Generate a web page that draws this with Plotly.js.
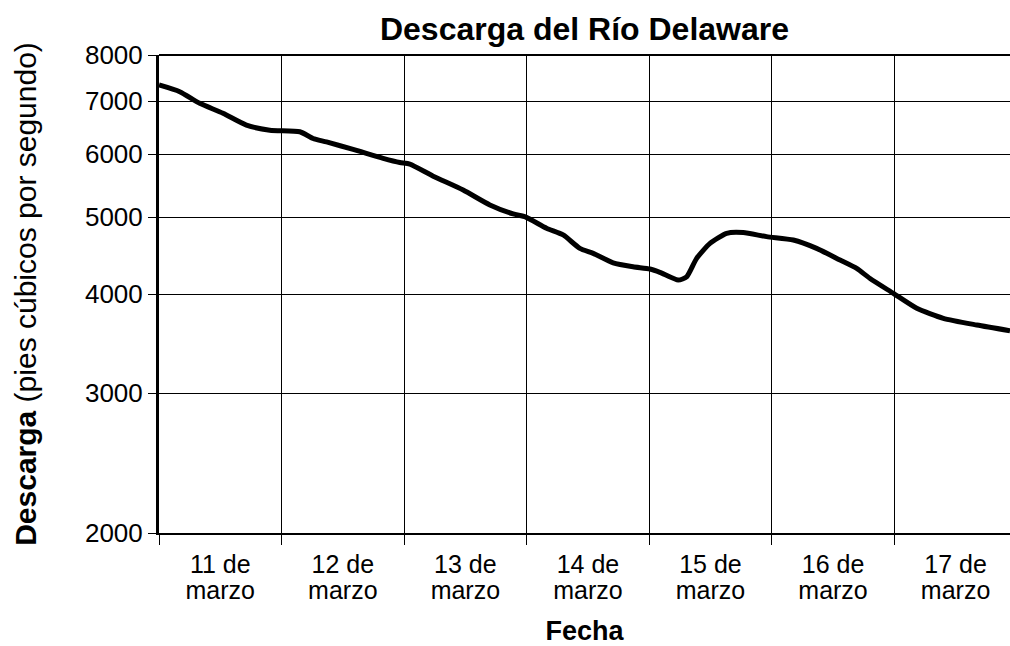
<!DOCTYPE html>
<html>
<head>
<meta charset="utf-8">
<script src="https://cdn.plot.ly/plotly-3.0.1.min.js"></script>
<style>html,body{margin:0;padding:0;background:#fff;}</style>
</head>
<body>
<div id="chart" style="width:1010px;height:646px;"></div>
<script>
// Day of March (fractional) and discharge (cubic feet per second)
const dayOfMarch = [11.000, 11.169, 11.332, 11.522, 11.713, 11.904, 12.149, 12.257, 12.367, 12.584,
  12.829, 12.965, 13.047, 13.237, 13.482, 13.700, 13.890, 13.993, 14.162, 14.298,
  14.434, 14.543, 14.706, 14.869, 15.006, 15.087, 15.237, 15.305, 15.387, 15.496,
  15.632, 15.767, 15.958, 16.176, 16.366, 16.557, 16.693, 16.802, 16.992, 17.183,
  17.400, 17.673, 17.944];
const discharge = [7334, 7193, 6954, 6756, 6528, 6433, 6404, 6280, 6217, 6084,
  5928, 5856, 5830, 5630, 5408, 5179, 5045, 5000, 4840, 4747,
  4566, 4500, 4379, 4329, 4300, 4260, 4165, 4204, 4436, 4632,
  4770, 4780, 4724, 4678, 4566, 4414, 4308, 4184, 4008, 3838,
  3728, 3656, 3596];
const dayTickVals = [11.5, 12.5, 13.5, 14.5, 15.5, 16.5, 17.5];
const dayTickTop = ['11 de', '12 de', '13 de', '14 de', '15 de', '16 de', '17 de'];
const dayTickBottom = ['marzo', 'marzo', 'marzo', 'marzo', 'marzo', 'marzo', 'marzo'];
const yTickVals = [2000, 3000, 4000, 5000, 6000, 7000, 8000];
const yTickText = ['2000', '3000', '4000', '5000', '6000', '7000', '8000'];

const FONT = 'Liberation Sans, Arial, Helvetica, sans-serif';
const xRange = [11, 17.944];

const traces = [{
  x: dayOfMarch,
  y: discharge,
  type: 'scatter',
  mode: 'lines',
  line: {color: '#000', width: 5, shape: 'spline', smoothing: 0.6},
  hoverinfo: 'x+y',
  showlegend: false
}, {
  // same series bound to the second (label-only) x axis, kept invisible
  x: dayOfMarch,
  y: discharge,
  xaxis: 'x2',
  type: 'scatter',
  mode: 'lines',
  line: {color: 'rgba(0,0,0,0)', width: 0},
  opacity: 0,
  hoverinfo: 'skip',
  showlegend: false
}];

const layout = {
  width: 1010, height: 646,
  margin: {l: 159, r: 0, t: 55, b: 113},
  paper_bgcolor: '#fff', plot_bgcolor: '#fff',
  font: {family: FONT, color: '#000'},
  showlegend: false,
  title: {
    text: '<b>Descarga del Río Delaware</b>',
    font: {family: FONT, size: 32, color: '#000'},
    x: 0.5, xref: 'paper', xanchor: 'center',
    y: 1 - 29 / 646, yref: 'container', yanchor: 'middle'
  },
  xaxis: {
    range: xRange,
    tickmode: 'array', tickvals: dayTickVals, ticktext: dayTickTop,
    ticks: '', showgrid: false, zeroline: false,
    showline: true, linecolor: '#000', linewidth: 2,
    tickfont: {family: FONT, size: 25, color: '#000'},
    ticklabelstandoff: 8,
    minor: {tick0: 11, dtick: 1, ticks: 'outside', ticklen: 10, tickwidth: 1, tickcolor: '#000',
            showgrid: true, gridcolor: '#000', gridwidth: 1},
    title: {text: '<b>Fecha</b>', font: {family: FONT, size: 27, color: '#000'}, standoff: 52}
  },
  xaxis2: {
    overlaying: 'x', anchor: 'y', side: 'bottom',
    range: xRange,
    tickmode: 'array', tickvals: dayTickVals, ticktext: dayTickBottom,
    ticks: '', showgrid: false, zeroline: false, showline: false,
    tickfont: {family: FONT, size: 25, color: '#000'},
    ticklabelstandoff: 40
  },
  yaxis: {
    type: 'log',
    range: [Math.log10(2000), Math.log10(8000)],
    tickmode: 'array', tickvals: yTickVals, ticktext: yTickText,
    ticks: 'outside', ticklen: 8, tickwidth: 1, tickcolor: '#000',
    showgrid: true, gridcolor: '#000', gridwidth: 1, zeroline: false,
    showline: true, linecolor: '#000', linewidth: 3,
    tickfont: {family: FONT, size: 26, color: '#000'},
    title: {text: '<b>Descarga</b> (pies cúbicos por segundo)', font: {family: FONT, size: 30, color: '#000'}, standoff: 40}
  },
  shapes: [{
    type: 'line', xref: 'paper', yref: 'paper', x0: 0, x1: 1, y0: 1, y1: 1,
    line: {color: '#000', width: 2}, layer: 'above'
  }]
};

Plotly.newPlot('chart', traces, layout, {displayModeBar: false, staticPlot: true});
</script>
</body>
</html>
